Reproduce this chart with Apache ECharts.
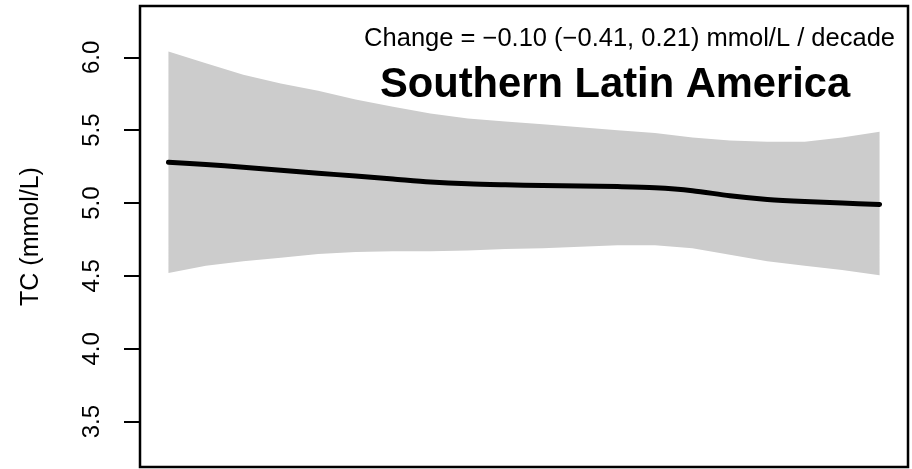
<!DOCTYPE html>
<html>
<head>
<meta charset="utf-8">
<script src="https://cdn.jsdelivr.net/npm/echarts@6/dist/echarts.min.js"></script>
<style>
html,body{margin:0;padding:0;background:#fff;}
#chart{width:912px;height:469px;}
</style>
</head>
<body>
<div id="chart"></div>
<script>
// ---- data ----
var years = [1980,1982,1984,1986,1988,1990,1992,1994,1996,1998,2000,2002,2004,2006,2008,2010,2012,2014,2016,2018];
var meanTC = [5.28,5.265,5.245,5.225,5.205,5.185,5.165,5.145,5.132,5.125,5.12,5.117,5.113,5.105,5.085,5.05,5.025,5.01,5.0,4.99];
var upperTC = [6.04,5.96,5.88,5.82,5.77,5.71,5.66,5.615,5.58,5.56,5.54,5.52,5.50,5.48,5.45,5.43,5.42,5.42,5.45,5.49];
var lowerTC = [4.52,4.57,4.60,4.625,4.65,4.665,4.67,4.67,4.675,4.685,4.69,4.70,4.71,4.71,4.69,4.645,4.60,4.57,4.54,4.505];
var yTicks = [3.5,4.0,4.5,5.0,5.5,6.0];
var yTickLabels = ['3.5','4.0','4.5','5.0','5.5','6.0'];
var changeText = 'Change = \u22120.10 (\u22120.41, 0.21) mmol/L / decade';
var regionTitle = 'Southern Latin America';
var yAxisTitle = 'TC (mmol/L)';

// ---- build ----
var bandRows = years.map(function(y,i){return [y, lowerTC[i], upperTC[i]];});
var meanData = years.map(function(y,i){return [y, meanTC[i]];});
var xSpan = years[years.length-1]-years[0];
var FONT = '"Liberation Sans", Arial, Helvetica, sans-serif';

function renderBand(params, api){
  if (params.dataIndex !== 0) return null;
  var pts = [];
  var i;
  for (i = 0; i < bandRows.length; i++) pts.push(api.coord([bandRows[i][0], bandRows[i][2]]));
  for (i = bandRows.length-1; i >= 0; i--) pts.push(api.coord([bandRows[i][0], bandRows[i][1]]));
  return {type:'polygon', shape:{points:pts, smooth:0}, style:{fill:'#cccccc', stroke:null}};
}

var chart = echarts.init(document.getElementById('chart'), null, {renderer:'canvas'});
chart.setOption({
  animation:false,
  backgroundColor:'#ffffff',
  grid:{left:140, top:6, right:4, bottom:2, show:true, borderColor:'#000', borderWidth:2.5, backgroundColor:'transparent', z:10},
  xAxis:{type:'value', min:years[0]-0.04*xSpan, max:years[years.length-1]+0.04*xSpan,
    axisLine:{show:false}, axisTick:{show:false}, axisLabel:{show:false}, splitLine:{show:false}},
  yAxis:{type:'value', min:3.189, max:6.352,
    name:yAxisTitle, nameLocation:'middle', nameRotate:90, nameGap:96,
    nameTextStyle:{fontFamily:FONT, fontSize:25, color:'#000'},
    axisLine:{show:false},
    axisTick:{show:true, inside:false, length:16, customValues:yTicks, lineStyle:{color:'#000', width:2}},
    axisLabel:{show:true, rotate:90, margin:36, customValues:yTicks, fontFamily:FONT, fontSize:24, color:'#000',
      formatter:function(v){var i=yTicks.indexOf(+(+v).toFixed(1)); return i>=0?yTickLabels[i]:'';}},
    splitLine:{show:false}},
  series:[
    {type:'custom', data:bandRows, renderItem:renderBand, encode:{x:0, y:[1,2]}, silent:true, z:1, clip:true},
    {type:'line', data:meanData, symbol:'none', smooth:0.3, lineStyle:{color:'#000', width:5, cap:'round', join:'round'}, z:5}
  ],
  graphic:[
    {type:'text', right:17, top:26, style:{text:changeText, font:'25.5px '+FONT, fill:'#000'}},
    {type:'text', left:380, top:65, style:{text:regionTitle, font:'bold 41.7px '+FONT, fill:'#000'}}
  ]
});
</script>
</body>
</html>
